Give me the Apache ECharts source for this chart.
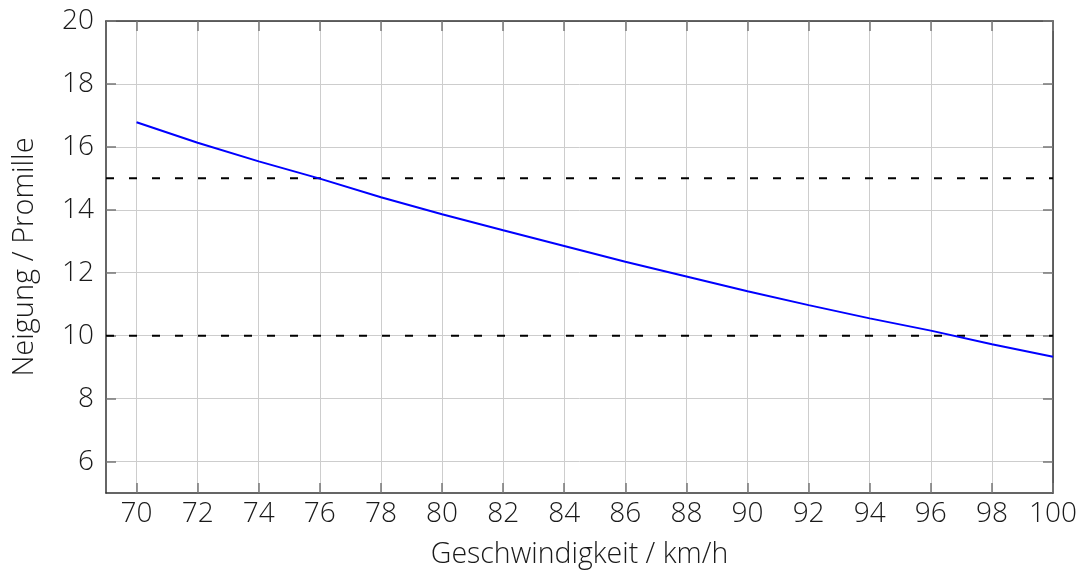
<!DOCTYPE html>
<html>
<head>
<meta charset="utf-8">
<script src="https://cdn.jsdelivr.net/npm/echarts@6/dist/echarts.min.js"></script>
<style>
html, body { margin: 0; padding: 0; background: #fff; }
#chart { width: 1082px; height: 570px; }
</style>
</head>
<body>
<div id="chart"></div>
<script>
// Geschwindigkeit (km/h) und Neigung (Promille)
var speeds = [70, 72, 74, 76, 78, 80, 82, 84, 86, 88, 90, 92, 94, 96, 98, 100];
var slopes = [16.78, 16.13, 15.54, 14.99, 14.40, 13.86, 13.35, 12.85, 12.35, 11.88, 11.41, 10.97, 10.55, 10.16, 9.73, 9.33];
// Grenzwerte (gestrichelt)
var limits = [15, 10];
var xTicks = [70, 72, 74, 76, 78, 80, 82, 84, 86, 88, 90, 92, 94, 96, 98, 100];
var yTicks = [6, 8, 10, 12, 14, 16, 18, 20];
var xRange = [69, 100];
var yRange = [5, 20];

var font = "'Open Sans', 'DejaVu Sans', sans-serif";
var frameColor = '#333';
var tickColor = '#777';
var gridColor = '#cdcdcd';

function makeAxis(type, range, ticks, pos, showLabels, extra) {
	var ax = {
		type: 'value',
		position: pos,
		min: range[0],
		max: range[1],
		interval: 1,
		axisLine: { show: true, onZero: false, lineStyle: { color: frameColor, width: 1.5 } },
		axisTick: { show: true, inside: true, length: 10, customValues: ticks, lineStyle: { color: tickColor, width: 1.5 } },
		axisLabel: { show: showLabels, customValues: ticks, fontFamily: font, fontWeight: 300, fontSize: 28, color: '#1a1a1a', margin: type == 'x' ? 7 : 12 },
		splitLine: { show: showLabels, lineStyle: { color: gridColor, width: 1 } }
	};
	for (var k in extra) { ax[k] = extra[k]; }
	return ax;
}

var limitSeries = [];
for (var i = 0; i < limits.length; i++) {
	limitSeries.push({
		type: 'line',
		data: [[xRange[0], limits[i]], [xRange[1], limits[i]]],
		symbol: 'none',
		silent: true,
		lineStyle: { color: '#000', width: 2, type: [8, 15] },
		z: 3
	});
}

var myChart = echarts.init(document.getElementById('chart'));
var option = {
	backgroundColor: '#fff',
	animation: false,
	grid: { left: 106, right: 29, top: 21, bottom: 77, containLabel: false, outerBoundsMode: 'none' },
	xAxis: [
		makeAxis('x', xRange, xTicks, 'bottom', true, {
			name: 'Geschwindigkeit / km/h',
			nameLocation: 'middle',
			nameGap: 47,
			nameTextStyle: { fontFamily: font, fontWeight: 300, fontSize: 28.5, color: '#1a1a1a' }
		}),
		makeAxis('x', xRange, xTicks, 'top', false, {})
	],
	yAxis: [
		makeAxis('y', yRange, yTicks, 'left', true, {
			name: 'Neigung / Promille',
			nameLocation: 'middle',
			nameGap: 67,
			nameTextStyle: { fontFamily: font, fontWeight: 300, fontSize: 29, color: '#1a1a1a' }
		}),
		makeAxis('y', yRange, yTicks, 'right', false, {})
	],
	series: limitSeries.concat([{
		type: 'line',
		data: speeds.map(function (v, i) { return [v, slopes[i]]; }),
		symbol: 'none',
		lineStyle: { color: '#0000ff', width: 2 },
		z: 4
	}])
};
myChart.setOption(option);
</script>
</body>
</html>
